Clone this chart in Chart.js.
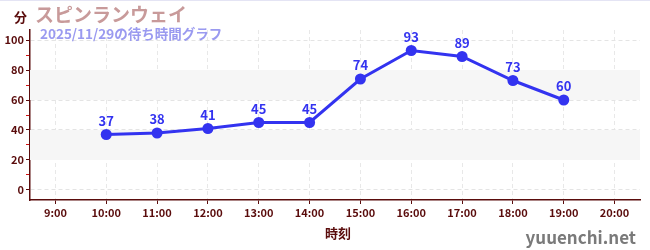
<!DOCTYPE html>
<html>
<head>
<meta charset="utf-8">
<script src="https://cdn.jsdelivr.net/npm/chart.js@4"></script>
<style>
  html, body { margin: 0; padding: 0; background: #fff; }
  #wrap { width: 650px; height: 250px; position: relative; border-top: 1px solid #e4e4f4; box-sizing: border-box; }
  canvas { display: block; }
</style>
</head>
<body>
<div id="wrap"><canvas id="grafico_espera"></canvas></div>
<script>
const horarios = ['9:00', '10:00', '11:00', '12:00', '13:00', '14:00', '15:00', '16:00', '17:00', '18:00', '19:00', '20:00'];
const tempoEspera = [null, 37, 38, 41, 45, 45, 74, 93, 89, 73, 60, null];
const ticksY = [0, 10, 20, 30, 40, 50, 60, 70, 80, 90, 100];
const faixasCinza = [[20, 40], [60, 80]];
const tituloAtracao = 'スピンランウェイ';
const subtitulo = '2025/11/29の待ち時間グラフ';
const rotuloY = '分';
const rotuloX = '時刻';
const marcaDagua = 'yuuenchi.net';

const FONTE = '"Noto Sans CJK JP", "Noto Sans", sans-serif';
const corEixo = '#5a0c0c';
const corLinha = '#3333f0';

const pluginDecoracao = {
    id: 'decoracao',
    beforeDatasetsDraw(chart) {
        const { ctx, chartArea, scales } = chart;
        ctx.save();
        ctx.fillStyle = '#f6f6f6';
        faixasCinza.forEach(([a, b]) => {
            const y1 = scales.y.getPixelForValue(b);
            const y2 = scales.y.getPixelForValue(a);
            ctx.fillRect(chartArea.left, y1, chartArea.right - chartArea.left, y2 - y1);
        });
        ctx.restore();
    },
    afterDatasetsDraw(chart) {
        const { ctx } = chart;
        const meta = chart.getDatasetMeta(0);
        ctx.save();
        ctx.font = 'bold 13px ' + FONTE;
        ctx.fillStyle = corLinha;
        ctx.textAlign = 'center';
        ctx.textBaseline = 'bottom';
        meta.data.forEach((pt, i) => {
            const v = tempoEspera[i];
            if (v === null) return;
            ctx.fillText(String(v), pt.x, pt.y - 7);
        });
        ctx.restore();
    },
    afterDraw(chart) {
        const { ctx, chartArea } = chart;
        ctx.save();
        ctx.textBaseline = 'alphabetic';
        ctx.textAlign = 'left';
        ctx.font = 'bold 13px ' + FONTE;
        ctx.fillStyle = corEixo;
        ctx.fillText(rotuloY, 14, 21);
        ctx.font = 'bold 19px ' + FONTE;
        ctx.fillStyle = '#c89a9a';
        ctx.fillText(tituloAtracao, 35, 21);
        ctx.font = 'bold 13.5px ' + FONTE;
        ctx.fillStyle = '#9a9af0';
        ctx.fillText(subtitulo, 40, 38);
        ctx.font = 'bold 13px ' + FONTE;
        ctx.fillStyle = corEixo;
        ctx.textAlign = 'center';
        ctx.fillText(rotuloX, (chartArea.left + chartArea.right) / 2 + 3, 237);
        ctx.font = 'bold 17px ' + FONTE;
        ctx.fillStyle = '#7a7a7a';
        ctx.textAlign = 'right';
        ctx.fillText(marcaDagua, 636, 243);
        ctx.restore();
    }
};

function criarGraficoEspera() {
    const canvas = document.getElementById('grafico_espera');
    const ctx = canvas.getContext('2d');

    new Chart(ctx, {
        type: 'line',
        data: {
            labels: horarios,
            datasets: [{
                label: '待ち時間',
                data: tempoEspera,
                borderColor: corLinha,
                backgroundColor: corLinha,
                borderWidth: 3,
                pointRadius: 5.5,
                pointHoverRadius: 5.5,
                pointBackgroundColor: corLinha,
                pointBorderWidth: 0,
                spanGaps: false,
                tension: 0,
            }],
        },
        options: {
            responsive: true,
            maintainAspectRatio: false,
            animation: false,
            layout: { padding: { top: 29, right: 10, left: 0, bottom: 0 } },
            plugins: {
                legend: { display: false },
                tooltip: { enabled: false },
            },
            scales: {
                x: {
                    offset: true,
                    afterFit(scale) { scale.height = 50; },
                    border: { color: corEixo, width: 1.5, dash: [4, 3] },
                    grid: {
                        offset: false,
                        color: '#e8e8e8',
                        tickColor: corEixo,
                        tickLength: 4,
                        tickBorderDash: [],
                    },
                    ticks: {
                        color: corEixo,
                        font: { family: FONTE, size: 11, weight: 'bold' },
                        maxRotation: 0,
                        autoSkip: false,
                        padding: 2,
                    },
                },
                y: {
                    min: -6.67,
                    max: 106.67,
                    afterFit(scale) { scale.width = 30; },
                    afterBuildTicks(scale) {
                        scale.ticks = ticksY.map(v => ({ value: v }));
                    },
                    border: { color: corEixo, width: 1.5, dash: [4, 3] },
                    grid: {
                        color: c => (c.tick && c.tick.value % 20 === 0) ? '#e4e4e4' : 'rgba(0,0,0,0)',
                        tickColor: c => (c.tick && c.tick.value % 20 === 0) ? corEixo : '#d01010',
                        tickLength: 4,
                        tickBorderDash: [],
                    },
                    ticks: {
                        color: corEixo,
                        font: { family: FONTE, size: 11, weight: 'bold' },
                        padding: 2,
                        callback: v => (v % 20 === 0 ? String(v) : ''),
                    },
                },
            },
        },
        plugins: [pluginDecoracao],
    });
}

criarGraficoEspera();
</script>
</body>
</html>
